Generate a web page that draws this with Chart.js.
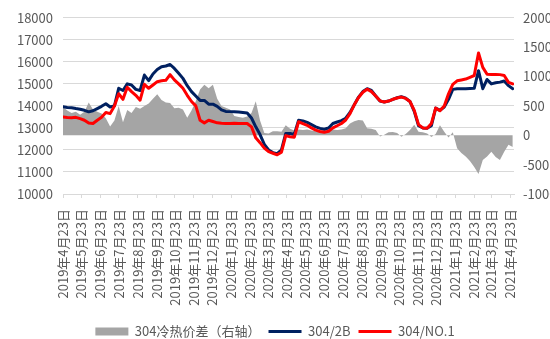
<!DOCTYPE html>
<html lang="zh">
<head>
<meta charset="utf-8">
<script src="https://cdn.jsdelivr.net/npm/chart.js@4.4.1/dist/chart.umd.min.js"></script>
<style>
  html, body { margin: 0; padding: 0; background: #fff; }
  #wrap { width: 550px; height: 339px; }
</style>
</head>
<body>
<div id="wrap"><canvas id="spreadChart" width="550" height="339"></canvas></div>
<script>
// ===== データ（週次） =====
const START_DATE = '2019-04-23';
const STEP_DAYS = 7;
const AXIS_END_DAY = 737;

const MONTH_LABELS = [
  '2019年4月23日', '2019年5月23日', '2019年6月23日', '2019年7月23日', '2019年8月23日',
  '2019年9月23日', '2019年10月23日', '2019年11月23日', '2019年12月23日', '2020年1月23日',
  '2020年2月23日', '2020年3月23日', '2020年4月23日', '2020年5月23日', '2020年6月23日',
  '2020年7月23日', '2020年8月23日', '2020年9月23日', '2020年10月23日', '2020年11月23日',
  '2020年12月23日', '2021年1月23日', '2021年2月23日', '2021年3月23日', '2021年4月23日'
];

const SERIES_NAMES = ['304冷热价差（右轴）', '304/2B', '304/NO.1'];

// 304冷热价差（右轴）
const SPREAD = [
  480, 420, 380, 400, 350, 400, 560, 440, 400, 370,
  290, 150, 250, 500, 220, 430, 380, 480, 450, 500,
  540, 620, 700, 600, 560, 550, 460, 470, 440, 300,
  420, 580, 780, 860, 800, 860, 620, 500, 470, 440,
  330, 310, 300, 320, 380, 580, 250, 40, 30, 70,
  70, 60, 170, 110, 80, 100, 90, 100, 80, 70,
  70, 90, 110, 100, 90, 100, 120, 200, 240, 260,
  250, 120, 110, 90, -20, 10, 50, 55, 40, -25,
  20, 90, 180, 60, 50, 30, -30, 20, 170, 60,
  -40, 50, -220, -300, -360, -440, -540, -660, -420, -360,
  -280, -370, -420, -280, -160, -200
];

// 304/2B
const PRICE_2B = [
  13960, 13930, 13920, 13880, 13850, 13800, 13730, 13780, 13880, 13980,
  14100, 13950, 14000, 14800, 14700, 15000, 14950, 14750, 14700, 15400,
  15150, 15450, 15650, 15780, 15810, 15880, 15700, 15480, 15250, 14920,
  14650, 14450, 14250, 14250, 14080, 14080, 13980, 13820, 13750, 13740,
  13730, 13720, 13700, 13680, 13450, 13050, 12700, 12250, 12000, 11880,
  11830, 12000, 12750, 12750, 12700, 13350, 13320, 13250, 13150, 13050,
  12980, 12940, 13000, 13200, 13270, 13330, 13440, 13700, 14050, 14400,
  14650, 14780, 14700, 14450, 14220, 14180, 14220, 14300, 14370, 14420,
  14350, 14200, 13750, 13100, 13000, 12990, 13100, 13900, 13800, 13950,
  14300, 14750, 14780, 14780, 14780, 14790, 14800, 15600, 14780, 15200,
  15000, 15050, 15080, 15130, 14920, 14780
];

// 304/NO.1
const PRICE_NO1 = [
  13500, 13470, 13460, 13480, 13420, 13350, 13220, 13200, 13350, 13480,
  13700, 13650, 14000, 14550, 14300, 14850, 14650, 14480, 14260, 14980,
  14800, 14950, 15100, 15140, 15160, 15420, 15180, 15000, 14800, 14480,
  14200, 14000, 13350, 13230, 13350, 13290, 13230, 13210, 13200, 13200,
  13210, 13200, 13200, 13200, 13050, 12550, 12330, 12080, 11920, 11850,
  11780, 11900, 12650, 12600, 12580, 13280, 13200, 13120, 13000, 12900,
  12840, 12800, 12850, 13000, 13100, 13200, 13360, 13650, 14050, 14380,
  14620, 14760, 14650, 14450, 14230, 14180, 14220, 14300, 14360, 14400,
  14340, 14200, 13800, 13150, 13000, 12990, 13200, 13900, 13780, 14000,
  14550, 14980, 15140, 15180, 15220, 15300, 15380, 16400, 15750, 15440,
  15430, 15430, 15420, 15380, 15070, 15000
];

// ===== 日付 → 経過日数 =====
const DAY_MS = 86400000;
const startMs = Date.parse(START_DATE + 'T00:00:00Z');

function labelToDay(label) {
  const m = label.match(/(\d+)年(\d+)月(\d+)日/);
  return Math.round((Date.UTC(+m[1], +m[2] - 1, +m[3]) - startMs) / DAY_MS);
}
const TICK_DAYS = MONTH_LABELS.map(labelToDay);

function toPoints(values) {
  return values.map((v, i) => ({ x: i * STEP_DAYS, y: v }));
}

// ===== グラフ =====
const FONT = "'Noto Sans CJK SC', 'Noto Sans', sans-serif";
const TEXT = '#595959';
const GRID = '#d9d9d9';
const BOTTOM_SHIFT = 9; // 凡例を少し下げる

new Chart(document.getElementById('spreadChart'), {
  type: 'line',
  data: {
    datasets: [
      {
        label: SERIES_NAMES[0],
        data: toPoints(SPREAD),
        yAxisID: 'y1',
        backgroundColor: '#a5a5a5',
        borderColor: '#a5a5a5',
        borderWidth: 0,
        fill: 'origin',
        pointRadius: 0,
        pointStyle: 'rect',
        order: 3
      },
      {
        label: SERIES_NAMES[1],
        data: toPoints(PRICE_2B),
        yAxisID: 'y',
        borderColor: '#002060',
        backgroundColor: '#002060',
        borderWidth: 3,
        borderJoinStyle: 'round',
        borderCapStyle: 'round',
        pointRadius: 0,
        pointStyle: 'line',
        fill: false,
        order: 2
      },
      {
        label: SERIES_NAMES[2],
        data: toPoints(PRICE_NO1),
        yAxisID: 'y',
        borderColor: '#ff0000',
        backgroundColor: '#ff0000',
        borderWidth: 3,
        borderJoinStyle: 'round',
        borderCapStyle: 'round',
        pointRadius: 0,
        pointStyle: 'line',
        fill: false,
        order: 1
      }
    ]
  },
  options: {
    responsive: false,
    animation: false,
    layout: { padding: { top: 14, left: 0, right: 0, bottom: -BOTTOM_SHIFT } },
    plugins: {
      tooltip: { enabled: false },
      legend: {
        position: 'bottom',
        labels: {
          usePointStyle: true,
          pointStyleWidth: 33,
          boxHeight: 8,
          padding: 8,
          color: TEXT,
          font: { family: FONT, size: 13 },
          sort: (a, b) => a.datasetIndex - b.datasetIndex
        }
      }
    },
    scales: {
      x: {
        type: 'linear',
        min: 0,
        max: AXIS_END_DAY,
        afterBuildTicks: scale => { scale.ticks = TICK_DAYS.map(v => ({ value: v })); },
        afterFit: scale => {
          const lg = scale.chart.legend;
          scale.height = 145 + BOTTOM_SHIFT - (lg ? lg.height : 0);
        },
        ticks: {
          autoSkip: false,
          minRotation: 90,
          maxRotation: 90,
          padding: 11,
          color: TEXT,
          font: { family: FONT, size: 13 },
          callback: (value, index) => MONTH_LABELS[index]
        },
        grid: { drawOnChartArea: false, drawTicks: true, tickLength: 4, color: GRID },
        border: { display: true, color: GRID }
      },
      y: {
        position: 'left',
        min: 10000,
        max: 18000,
        afterFit: scale => { scale.width = 63; },
        ticks: {
          stepSize: 1000,
          padding: 10,
          color: TEXT,
          font: { family: FONT, size: 13 },
          callback: v => String(v)
        },
        grid: { color: GRID, drawTicks: false },
        border: { display: false }
      },
      y1: {
        position: 'right',
        min: -1000,
        max: 2000,
        afterFit: scale => { scale.width = 36; },
        ticks: {
          stepSize: 500,
          padding: 9,
          color: TEXT,
          font: { family: FONT, size: 13 },
          callback: v => String(v)
        },
        grid: { drawOnChartArea: false, drawTicks: false },
        border: { display: false }
      }
    }
  }
});
</script>
</body>
</html>
